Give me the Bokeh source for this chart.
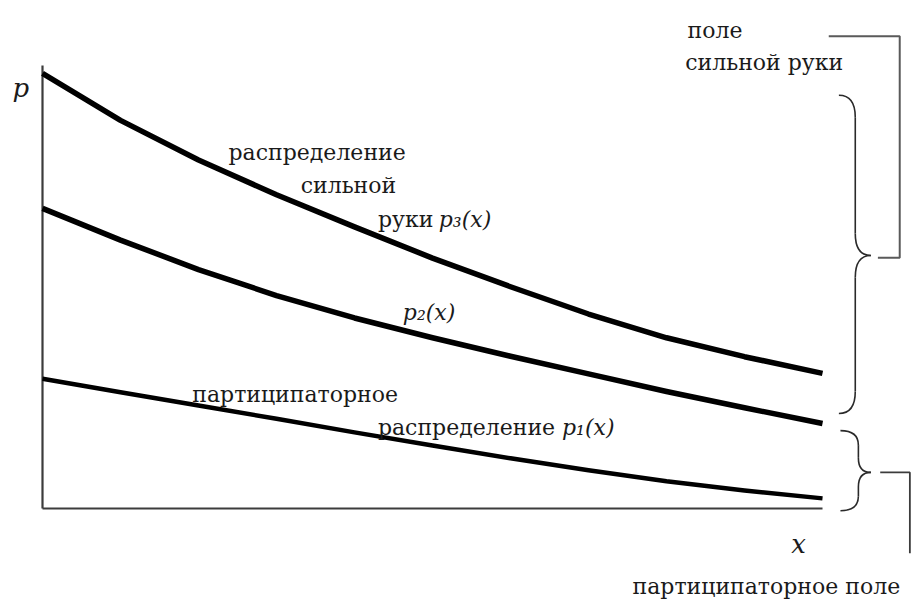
from bokeh.plotting import figure
from bokeh.models import Range1d
from bokeh.core.properties import value
from bokeh.embed import file_html
from bokeh.resources import INLINE

# ---- data (x axis spans 0..10, p axis spans 0..10) ----
x_vals = [0, 1, 2, 3, 4, 5, 6, 7, 8, 9, 10]
p3_vals = [9.89, 8.82, 7.92, 7.13, 6.40, 5.69, 5.04, 4.42, 3.88, 3.45, 3.07]
p2_vals = [6.82, 6.10, 5.43, 4.84, 4.33, 3.88, 3.46, 3.06, 2.66, 2.29, 1.93]
p1_vals = [2.95, 2.64, 2.34, 2.04, 1.73, 1.43, 1.14, 0.87, 0.62, 0.41, 0.23]

x_axis_max = 10.0
p_axis_max = 10.0

FONT = value("DejaVu Serif")
TXT = "#1a1a1a"

# ---- figure: the whole canvas is the frame; data units map to the drawing ----
W, H = 916, 604
p = figure(width=W, height=H, output_backend="svg", toolbar_location=None,
           x_range=Range1d(-0.5385, 11.205), y_range=Range1d(-2.182, 11.545),
           min_border=0)
p.axis.visible = False
p.grid.visible = False
p.outline_line_color = None
p.background_fill_color = "white"
p.border_fill_color = "white"

# axes
p.line([0, 0], [0, p_axis_max + 0.07], line_color="#3c3c3c", line_width=2.2)
p.line([0, x_axis_max], [0, 0], line_color="#3c3c3c", line_width=2.2)

# curves
p.line(x_vals, p3_vals, line_color="black", line_width=5.5, line_join="round")
p.line(x_vals, p2_vals, line_color="black", line_width=5.5, line_join="round")
p.line(x_vals, p1_vals, line_color="black", line_width=4.5, line_join="round")


def txt(x, y, s, size="22px", style="normal", align="left"):
    p.text(x=[x], y=[y], text=[s], text_font=FONT, text_font_size=value(size),
           text_font_style=style, text_color=TXT, text_align=align,
           text_baseline="alphabetic")


# axis letters
txt(-0.385, 9.55, "p", size="26px", style="italic")
txt(9.60, -0.80, "x", size="26px", style="italic")

# curve labels
txt(2.385, 8.09, "распределение")
txt(3.31, 7.34, "сильной")
txt(4.30, 6.57, "руки")
txt(5.08, 6.57, "p₃(x)", style="italic")
txt(4.62, 4.45, "p₂(x)", style="italic")
txt(1.92, 2.60, "партиципаторное")
txt(4.30, 1.84, "распределение")
txt(6.66, 1.84, "p₁(x)", style="italic")

# field labels
txt(8.27, 10.86, "поле")
txt(8.24, 10.14, "сильной руки")
txt(7.565, -1.77, "партиципаторное поле")


# curly braces
def brace(y_bot, y_top, y_mid, x_end, x_spine, x_tip, r):
    col, lw = "#2a2a2a", 1.6
    p.quadratic(x0=[x_end, x_spine, x_tip, x_spine],
                y0=[y_top, y_mid + r, y_mid, y_bot + r],
                x1=[x_spine, x_tip, x_spine, x_end],
                y1=[y_top - r, y_mid, y_mid - r, y_bot],
                cx=[x_spine, x_spine, x_spine, x_spine],
                cy=[y_top, y_mid, y_mid, y_bot],
                line_color=col, line_width=lw)
    p.segment(x0=[x_spine, x_spine], y0=[y_top - r, y_mid - r],
              x1=[x_spine, x_spine], y1=[y_mid + r, y_bot + r],
              line_color=col, line_width=lw)


brace(2.16, 9.39, 5.75, 10.21, 10.42, 10.62, 0.5)
brace(-0.05, 1.77, 0.82, 10.23, 10.46, 10.62, 0.33)

# square brackets linking braces to their labels
p.line([10.08, 10.99, 10.99, 10.71], [10.73, 10.73, 5.70, 5.70],
       line_color="#5a5a5a", line_width=2)
p.line([10.74, 11.12, 11.12], [0.82, 0.82, -1.02],
       line_color="#3c3c3c", line_width=1.8)

open("out.html", "w").write(file_html(p, INLINE))
